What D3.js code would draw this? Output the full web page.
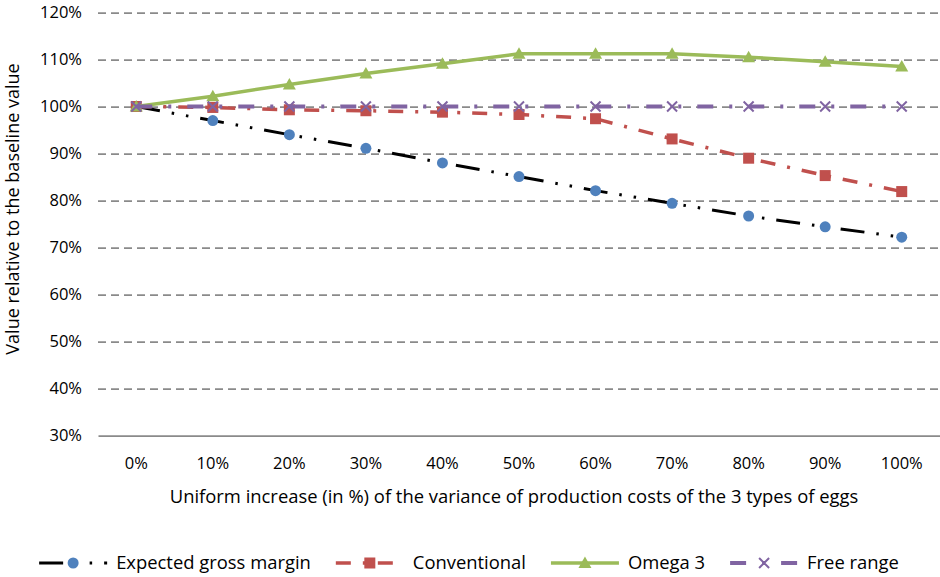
<!DOCTYPE html>
<html>
<head>
<meta charset="utf-8">
<script src="https://cdn.jsdelivr.net/npm/d3@7"></script>
<style>
  body { margin: 0; background: #fff; }
  svg text { font-family: "Open Sans", sans-serif; fill: #000; }
</style>
</head>
<body>
<svg id="chart" width="940" height="577"></svg>
<script>
// Categories: uniform increase of the variance of production costs
const categories = ["0%", "10%", "20%", "30%", "40%", "50%", "60%", "70%", "80%", "90%", "100%"];

// Series values, in % of the baseline value
const grossMargin  = [100, 97.0, 94.0, 91.1, 88.0, 85.1, 82.1, 79.4, 76.7, 74.4, 72.2];
const conventional = [100, 99.8, 99.3, 99.1, 98.8, 98.3, 97.4, 93.1, 89.0, 85.3, 81.9];
const omega3       = [100, 102.2, 104.7, 107.0, 109.1, 111.2, 111.2, 111.2, 110.5, 109.5, 108.5];
const freeRange    = [100, 100, 100, 100, 100, 100, 100, 100, 100, 100, 100];

// Value axis ticks
const yTicks = [30, 40, 50, 60, 70, 80, 90, 100, 110, 120];

const seriesNames = ["Expected gross margin", "Conventional", "Omega 3", "Free range"];

const series = [
  { name: seriesNames[0], values: grossMargin,  color: "#000000", markerColor: "#4F81BD", marker: "circle",   width: 3,   dash: "24,12,2.5,12,2.5,12" },
  { name: seriesNames[1], values: conventional, color: "#C0504D", markerColor: "#C0504D", marker: "square",   width: 3.5, dash: "15,12,3,12" },
  { name: seriesNames[2], values: omega3,       color: "#9BBB59", markerColor: "#9BBB59", marker: "triangle", width: 3.5, dash: null },
  { name: seriesNames[3], values: freeRange,    color: "#8064A2", markerColor: "#8064A2", marker: "cross",    width: 4,   dash: "16,16,3,16" }
];

const tickFont = 16.5;
const titleFont = 18.4;

const svg = d3.select("#chart");
const plot = { left: 98, right: 940, top: 12.5, bottom: 435.5 };

const x = d3.scaleBand().domain(categories).range([plot.left, plot.right]).padding(0);
const y = d3.scaleLinear().domain([30, 120]).range([plot.bottom, plot.top]);
const cx = c => x(c) + x.bandwidth() / 2;

// Horizontal gridlines (dashed), baseline axis solid
const gridAxis = d3.axisLeft(y).tickValues(yTicks.filter(t => t > 30))
  .tickSize(-(plot.right - plot.left)).tickFormat("");
const grid = svg.append("g").attr("transform", `translate(${plot.left},0)`).call(gridAxis);
grid.select(".domain").remove();
grid.selectAll(".tick line").attr("stroke", "#8a8a8a").attr("stroke-width", 1.75).attr("stroke-dasharray", "8,5");

const xAxis = d3.axisBottom(x).tickSize(0).tickPadding(22);
const xg = svg.append("g").attr("transform", `translate(0,${y(30)})`).call(xAxis);
xg.select(".domain").attr("stroke", "#8a8a8a").attr("stroke-width", 1.75);
xg.selectAll(".tick text").attr("font-size", tickFont).attr("font-family", null);

// Value axis labels
const yAxis = d3.axisLeft(y).tickValues(yTicks).tickSize(0).tickPadding(16).tickFormat(d => d + "%");
const yg = svg.append("g").attr("transform", `translate(${plot.left},0)`).call(yAxis);
yg.select(".domain").remove();
yg.selectAll(".tick text").attr("font-size", tickFont).attr("font-family", null);

// Axis titles
svg.append("text")
  .attr("x", 514).attr("y", 503)
  .attr("text-anchor", "middle").attr("font-size", titleFont)
  .text("Uniform increase (in %) of the variance of production costs of the 3 types of eggs");

svg.append("text")
  .attr("transform", "translate(19,209) rotate(-90)")
  .attr("text-anchor", "middle").attr("font-size", 18)
  .text("Value relative to the baseline value");

// Marker drawing
function drawMarker(sel, type, color) {
  if (type === "circle") {
    sel.append("circle").attr("r", 5.5).attr("fill", color);
  } else if (type === "square") {
    sel.append("rect").attr("x", -5.5).attr("y", -5.5).attr("width", 11).attr("height", 11).attr("fill", color);
  } else if (type === "triangle") {
    sel.append("path").attr("d", "M0,-6.5 L6.5,5 L-6.5,5 Z").attr("fill", color);
  } else if (type === "cross") {
    sel.append("path").attr("d", "M-5,-5 L5,5 M-5,5 L5,-5").attr("stroke", color).attr("stroke-width", 2).attr("fill", "none");
  }
}

const line = d3.line().x((d, i) => cx(categories[i])).y(d => y(d));

series.forEach(s => {
  const g = svg.append("g");
  g.append("path")
    .attr("d", line(s.values))
    .attr("fill", "none")
    .attr("stroke", s.color)
    .attr("stroke-width", s.width)
    .attr("stroke-linejoin", "round")
    .attr("stroke-dasharray", s.dash);
  s.values.forEach((v, i) => {
    const m = g.append("g").attr("transform", `translate(${cx(categories[i])},${y(v)})`);
    drawMarker(m, s.marker, s.markerColor);
  });
});

// Legend
const legendY = 563;
const sampleLen = 68;
const legend = svg.append("g");
const items = series.map(s => {
  const g = legend.append("g");
  g.append("line").attr("x1", 0).attr("x2", sampleLen).attr("y1", 0).attr("y2", 0)
    .attr("stroke", s.color).attr("stroke-width", s.width).attr("stroke-dasharray", s.dash);
  const m = g.append("g").attr("transform", `translate(${sampleLen / 2},0)`);
  drawMarker(m, s.marker, s.markerColor);
  const t = g.append("text").attr("x", sampleLen + 9).attr("y", 0).attr("dy", "0.35em")
    .attr("font-size", titleFont).text(s.name);
  return { g, w: sampleLen + 9 + t.node().getComputedTextLength() };
});
const gap = 25;
const total = d3.sum(items, d => d.w) + gap * (items.length - 1);
let lx = 469 - total / 2;
items.forEach(it => {
  it.g.attr("transform", `translate(${lx},${legendY})`);
  lx += it.w + gap;
});
</script>
</body>
</html>
